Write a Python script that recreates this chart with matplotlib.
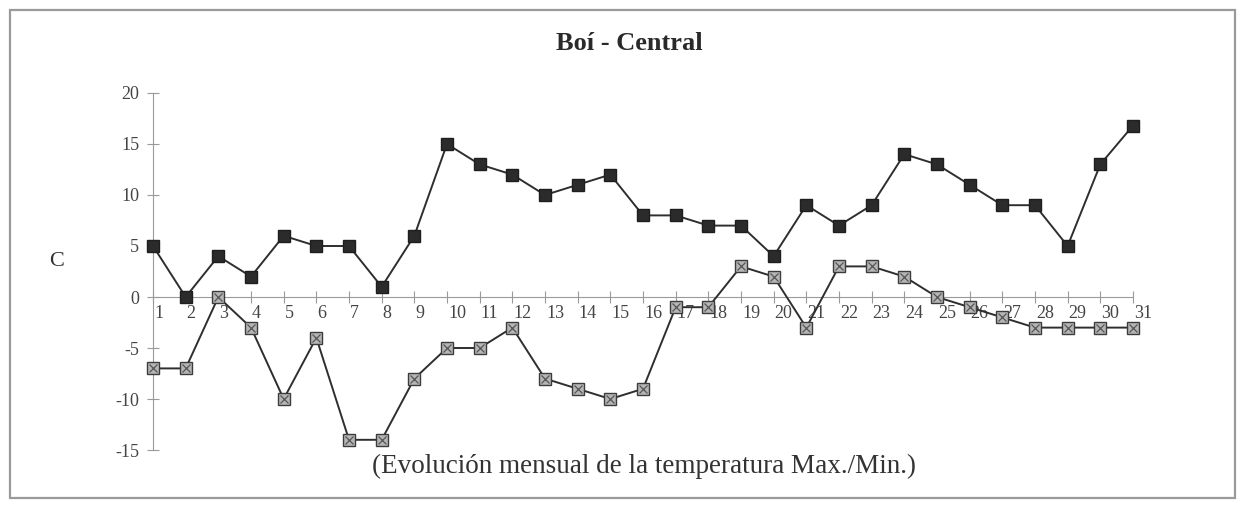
import numpy as np
import matplotlib.pyplot as plt
import matplotlib.transforms as mtransforms
from matplotlib.patches import Rectangle

# datos (dia del mes, temperatura max / min)
dias = list(range(1, 32))
t_max = [5, 0, 4, 2, 6, 5, 5, 1, 6, 15, 13, 12, 10, 11, 12, 8, 8, 7, 7, 4,
         9, 7, 9, 14, 13, 11, 9, 9, 5, 13, 16.8]
t_min = [-7, -7, 0, -3, -10, -4, -14, -14, -8, -5, -5, -3, -8, -9, -10, -9,
         -1, -1, 3, 2, -3, 3, 3, 2, 0, -1, -2, -3, -3, -3, -3]
y_ticks = [-15, -10, -5, 0, 5, 10, 15, 20]

titulo = "Boí - Central"
pie = "(Evolución mensual de la temperatura Max./Min.)"

plt.rcParams['font.family'] = ['Liberation Serif', 'DejaVu Serif']
plt.rcParams['axes.unicode_minus'] = False

fig = plt.figure(figsize=(12.37, 5.09), dpi=100)
ax = fig.add_axes([0.1237, 0.1159, 0.7922, 0.7014])

# marco exterior
fig.patches.append(Rectangle((10 / 1237, 11 / 509), 1225 / 1237, 488 / 509,
                             transform=fig.transFigure, fill=False,
                             edgecolor='#9a9a9a', linewidth=1.6))

linea = '#2e2e2e'
ax.plot(dias, t_max, color=linea, lw=1.4, marker='s', ms=9,
        mfc='#2b2b2b', mec='#1e1e1e', clip_on=False, zorder=3)
ax.plot(dias, t_min, color=linea, lw=1.4, marker='s', ms=9,
        mfc='#b5b5b5', mec='#3c3c3c', mew=1.0, clip_on=False, zorder=3)
ax.plot(dias, t_min, ls='none', marker='x', ms=5.5, mec='#555555',
        mew=0.9, clip_on=False, zorder=4)

ax.set_xlim(1, 31)
ax.set_ylim(-15, 20)

for s in ['top', 'right']:
    ax.spines[s].set_visible(False)
ax.spines['bottom'].set_position(('data', 0))
ax.spines['left'].set_color('#9a9a9a')
ax.spines['bottom'].set_color('#9a9a9a')

ax.set_yticks(y_ticks)
ax.set_xticks(dias)
ax.tick_params(axis='both', direction='inout', length=8, color='#9a9a9a',
               labelcolor='#444444', labelsize=13)
ax.tick_params(axis='y', pad=6)
ax.tick_params(axis='x', pad=2)
offset = mtransforms.ScaledTranslation(1 / 100, 0, fig.dpi_scale_trans)
for lab in ax.get_xticklabels():
    lab.set_horizontalalignment('left')
    lab.set_transform(lab.get_transform() + offset)

fig.text(629 / 1237, 1 - 44 / 509, titulo, ha='center', va='center',
         fontsize=19, fontweight='bold', color='#2a2a2a')
fig.text(57 / 1237, 1 - 262 / 509, "C", ha='center', va='center',
         fontsize=16, color='#333333')
fig.text(644 / 1237, 1 - 466 / 509, pie, ha='center', va='center',
         fontsize=19.5, color='#333333')

fig.savefig('out.png', dpi=100)
